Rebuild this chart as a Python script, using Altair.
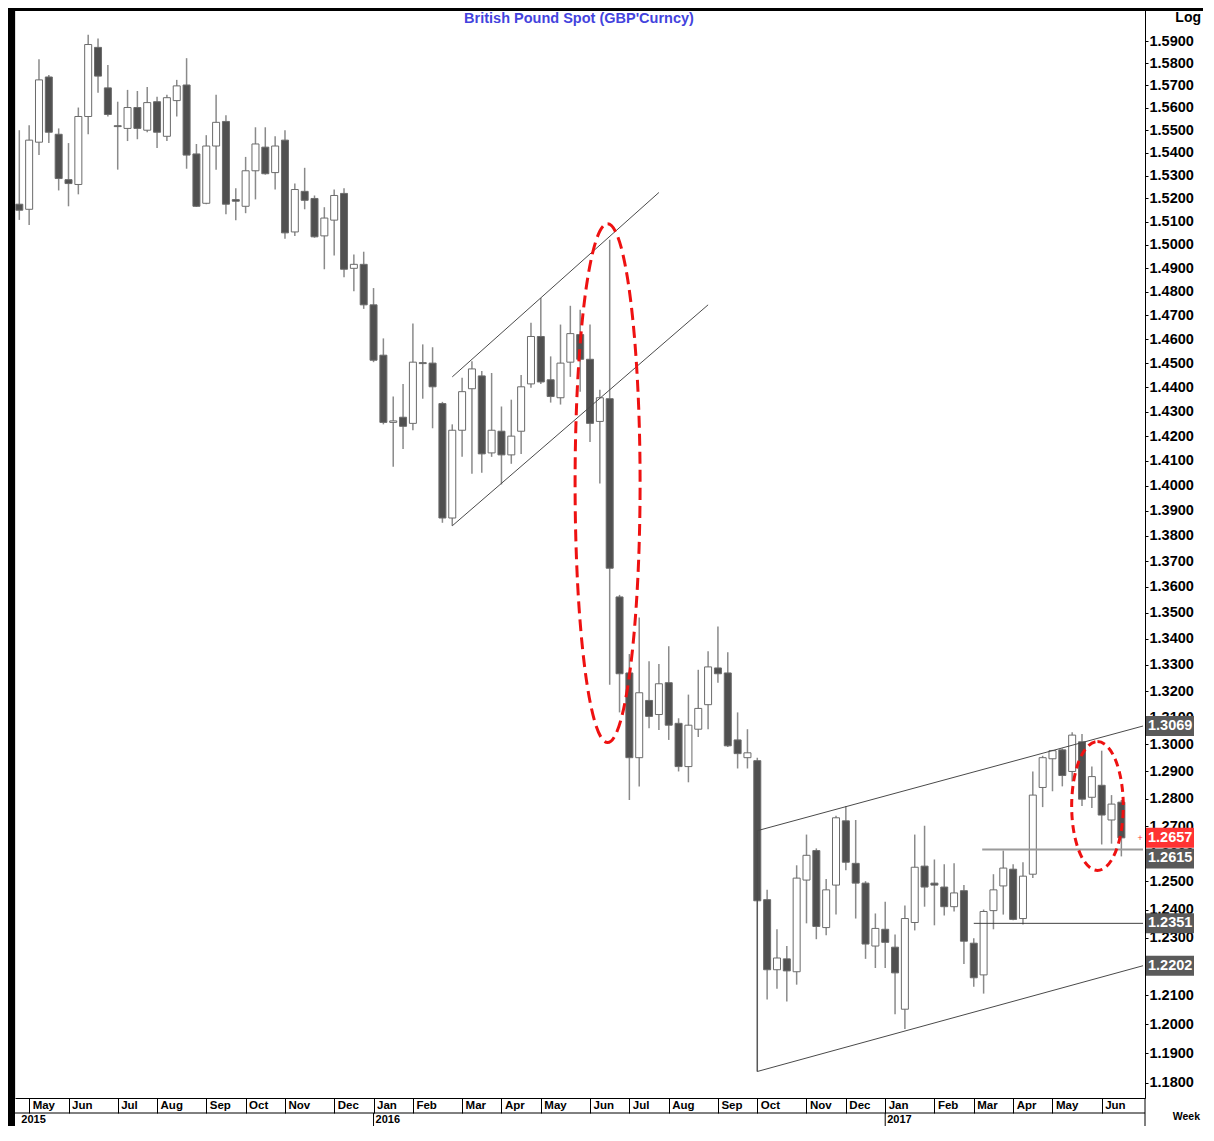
import altair as alt
import pandas as pd

# ---------------- data ----------------
WEEK_START = "2015-05-01"   # weekly bars, dated on Fridays

OPEN = [1.5175, 1.5153, 1.5447, 1.5738, 1.5482, 1.5282, 1.5261, 1.5561, 1.5872, 1.5689,
        1.5520, 1.5508, 1.5601, 1.5500, 1.5627, 1.5473, 1.5632, 1.5702, 1.5395, 1.5179,
        1.5430, 1.5539, 1.5195, 1.5166, 1.5321, 1.5425, 1.5313, 1.5456, 1.5055, 1.5231,
        1.5200, 1.5038, 1.5106, 1.5222, 1.4899, 1.4916, 1.4744, 1.4533, 1.4256, 1.4277,
        1.4252, 1.4502, 1.4500, 1.4333, 1.3871, 1.4224, 1.4394, 1.4447, 1.4132, 1.4220,
        1.4124, 1.4220, 1.4414, 1.4611, 1.4431, 1.4357, 1.4504, 1.4619, 1.4516, 1.4260,
        1.4353, 1.3561, 1.3269, 1.2951, 1.3165, 1.3112, 1.3232, 1.3079, 1.2918, 1.3057,
        1.3149, 1.3288, 1.3269, 1.3017, 1.2951, 1.2940, 1.2435, 1.2188, 1.2226, 1.2181,
        1.2505, 1.2611, 1.2336, 1.2487, 1.2719, 1.2565, 1.2494, 1.2271, 1.2330, 1.2267,
        1.2051, 1.2354, 1.2555, 1.2494, 1.2480, 1.2410, 1.2467, 1.2281, 1.2170, 1.2396,
        1.2484, 1.2544, 1.2368, 1.2526, 1.2841, 1.2947, 1.2980, 1.2900, 1.3010, 1.2805,
        1.2849, 1.2722, 1.2787]
HIGH = [1.5500, 1.5522, 1.5818, 1.5747, 1.5508, 1.5443, 1.5601, 1.5930, 1.5912, 1.5792,
        1.5627, 1.5680, 1.5675, 1.5693, 1.5649, 1.5658, 1.5725, 1.5823, 1.5439, 1.5478,
        1.5658, 1.5566, 1.5244, 1.5382, 1.5513, 1.5513, 1.5473, 1.5500, 1.5265, 1.5334,
        1.5213, 1.5162, 1.5239, 1.5244, 1.4958, 1.4970, 1.4815, 1.4603, 1.4362, 1.4414,
        1.4665, 1.4578, 1.4566, 1.4340, 1.4248, 1.4439, 1.4508, 1.4467, 1.4459, 1.4321,
        1.4349, 1.4451, 1.4669, 1.4773, 1.4528, 1.4661, 1.4740, 1.4723, 1.4661, 1.4390,
        1.5021, 1.3569, 1.3341, 1.3481, 1.3314, 1.3303, 1.3371, 1.3098, 1.3187, 1.3281,
        1.3352, 1.3447, 1.3348, 1.3120, 1.3057, 1.2951, 1.2470, 1.2330, 1.2271, 1.2558,
        1.2669, 1.2619, 1.2509, 1.2737, 1.2773, 1.2722, 1.2501, 1.2386, 1.2428, 1.2312,
        1.2414, 1.2669, 1.2701, 1.2579, 1.2562, 1.2565, 1.2487, 1.2298, 1.2400, 1.2526,
        1.2611, 1.2562, 1.2569, 1.2900, 1.2958, 1.2980, 1.2985, 1.3046, 1.3039, 1.2918,
        1.2977, 1.2813, 1.2795]
LOW = [1.5107, 1.5085, 1.5390, 1.5443, 1.5235, 1.5166, 1.5218, 1.5482, 1.5667, 1.5561,
       1.5326, 1.5452, 1.5460, 1.5491, 1.5421, 1.5452, 1.5561, 1.5330, 1.5163, 1.5175,
       1.5326, 1.5132, 1.5106, 1.5136, 1.5196, 1.5304, 1.5239, 1.5026, 1.5038, 1.5153,
       1.5030, 1.4895, 1.4954, 1.4861, 1.4802, 1.4727, 1.4504, 1.4248, 1.4076, 1.4148,
       1.4224, 1.4353, 1.4232, 1.3852, 1.3840, 1.4116, 1.4048, 1.4052, 1.4116, 1.4005,
       1.4088, 1.4128, 1.4398, 1.4414, 1.4337, 1.4329, 1.4443, 1.4382, 1.4176, 1.4009,
       1.3224, 1.3120, 1.2795, 1.2845, 1.3061, 1.3054, 1.3017, 1.2900, 1.2860, 1.3028,
       1.3057, 1.3232, 1.2991, 1.2911, 1.2911, 1.1838, 1.2085, 1.2122, 1.2078, 1.2136,
       1.2351, 1.2295, 1.2309, 1.2382, 1.2540, 1.2368, 1.2226, 1.2194, 1.2194, 1.2034,
       1.1983, 1.2326, 1.2410, 1.2344, 1.2379, 1.2393, 1.2208, 1.2129, 1.2105, 1.2330,
       1.2382, 1.2362, 1.2347, 1.2512, 1.2769, 1.2827, 1.2845, 1.2863, 1.2773, 1.2766,
       1.2633, 1.2636, 1.2590]
CLOSE = [1.5149, 1.5456, 1.5725, 1.5491, 1.5287, 1.5265, 1.5561, 1.5885, 1.5742, 1.5570,
         1.5516, 1.5601, 1.5508, 1.5623, 1.5491, 1.5645, 1.5698, 1.5390, 1.5166, 1.5430,
         1.5535, 1.5175, 1.5188, 1.5321, 1.5439, 1.5308, 1.5430, 1.5051, 1.5239, 1.5192,
         1.5034, 1.5115, 1.5213, 1.4895, 1.4916, 1.4744, 1.4512, 1.4256, 1.4262, 1.4240,
         1.4504, 1.4498, 1.4402, 1.3871, 1.4224, 1.4382, 1.4476, 1.4128, 1.4224, 1.4124,
         1.4200, 1.4402, 1.4611, 1.4422, 1.4362, 1.4500, 1.4623, 1.4516, 1.4252, 1.4357,
         1.3673, 1.3266, 1.2951, 1.3194, 1.3105, 1.3228, 1.3072, 1.2918, 1.3072, 1.3135,
         1.3292, 1.3266, 1.2995, 1.2966, 1.2969, 1.2431, 1.2188, 1.2229, 1.2184, 1.2512,
         1.2594, 1.2340, 1.2470, 1.2730, 1.2569, 1.2494, 1.2278, 1.2333, 1.2284, 1.2177,
         1.2368, 1.2551, 1.2480, 1.2487, 1.2410, 1.2459, 1.2288, 1.2160, 1.2393, 1.2470,
         1.2548, 1.2365, 1.2519, 1.2813, 1.2951, 1.2977, 1.2885, 1.3035, 1.2798, 1.2881,
         1.2740, 1.2780, 1.2657]

# month separators sit on the first weekly bar of each month
MONTH_TICKS = ["2015-05-08", "2015-06-05", "2015-07-10", "2015-08-07", "2015-09-11",
               "2015-10-09", "2015-11-06", "2015-12-11", "2016-01-08", "2016-02-05",
               "2016-03-11", "2016-04-08", "2016-05-06", "2016-06-10", "2016-07-08",
               "2016-08-05", "2016-09-09", "2016-10-07", "2016-11-11", "2016-12-09",
               "2017-01-06", "2017-02-10", "2017-03-10", "2017-04-07", "2017-05-05",
               "2017-06-09"]
YEAR_TEXT = ["2015", "2016", "2017"]
YEAR_AT = ["2015-05-01", "2016-01-08", "2017-01-06"]

PRICE_TICKS = [1.18, 1.19, 1.20, 1.21, 1.22, 1.23, 1.24, 1.25, 1.26, 1.27, 1.28, 1.29,
               1.30, 1.31, 1.32, 1.33, 1.34, 1.35, 1.36, 1.37, 1.38, 1.39, 1.40, 1.41,
               1.42, 1.43, 1.44, 1.45, 1.46, 1.47, 1.48, 1.49, 1.50, 1.51, 1.52, 1.53,
               1.54, 1.55, 1.56, 1.57, 1.58, 1.59]

# drawn trend channels (segment id, date, price)
CHANNEL_SEG = ["up16", "up16", "lo16", "lo16", "up17", "up17", "lo17", "lo17", "vert", "vert"]
CHANNEL_DATE = ["2016-03-04T00:00:00", "2016-07-29T00:00:00", "2016-03-04T00:00:00", "2016-09-02T00:00:00",
                "2016-10-07T00:00:00", "2017-07-08T10:00:00", "2016-10-07T00:00:00", "2017-07-08T10:00:00",
                "2016-10-07T00:00:00", "2016-10-07T00:00:00"]
CHANNEL_PRICE = [1.4443, 1.5226, 1.3840, 1.4744, 1.2683, 1.3069, 1.1838, 1.2202, 1.1838, 1.2683]

SUPPORT_A_DATE = ["2017-03-16T00:00:00", "2017-07-08T10:00:00"]
SUPPORT_A = 1.2615
SUPPORT_B_DATE = ["2017-03-10T00:00:00", "2017-07-08T10:00:00"]
SUPPORT_B = 1.2351

LEVELS = [1.3069, 1.2615, 1.2351, 1.2202]
LAST_PRICE = 1.2657

BIG_ELLIPSE_AT = ("2016-06-22T12:00:00", 1.4010)
SMALL_ELLIPSE_AT = ("2017-06-06T00:00:00", 1.2773)

TITLE = "British Pound Spot (GBP'Curncy)"

# ---------------- chart ----------------
W, H = 1130, 1090
FONT = "Liberation Sans, Arial, sans-serif"

candles = pd.DataFrame({
    "date": pd.date_range(WEEK_START, periods=len(OPEN), freq="7D"),
    "open": OPEN, "high": HIGH, "low": LOW, "close": CLOSE,
})

def to_dates(lst):
    return pd.to_datetime(lst, format="ISO8601")

def dt(s):
    t = pd.Timestamp(s)
    return alt.DateTime(year=t.year, month=t.month, date=t.day)

xscale = alt.Scale(domain=[alt.DateTime(year=2015, month=4, date=27, hours=22, minutes=30),
                           alt.DateTime(year=2017, month=7, date=9, hours=19, minutes=30)],
                   padding=0)
yscale = alt.Scale(type="log", domain=[1.17485, 1.6052], nice=False, zero=False, padding=0)

x_axis = alt.Axis(values=[dt(s) for s in MONTH_TICKS],
                  labelExpr="timeFormat(datum.value, '%b')",
                  title=None, orient="bottom", grid=False,
                  tickSize=15, tickColor="black", tickWidth=1,
                  domainColor="black", domainWidth=1,
                  labelAlign="left", labelBaseline="top", labelPadding=-14, labelOffset=3,
                  labelFont=FONT, labelFontSize=11.5, labelFontWeight="bold",
                  labelColor="black", labelOverlap=False, labelFlush=False)
y_axis = alt.Axis(values=PRICE_TICKS, format=".4f", orient="right", title=None, grid=False,
                  tickSize=3, tickColor="black", domainColor="black", domainWidth=1,
                  labelPadding=1, labelFont=FONT, labelFontSize=14.5, labelFontWeight="bold",
                  labelColor="black", labelOverlap=False, labelFlush=False)

def X(field):
    return alt.X(field, type="temporal", scale=xscale, axis=x_axis)

def Y(field):
    return alt.Y(field, type="quantitative", scale=yscale, axis=y_axis)

wicks = alt.Chart(candles).mark_rule(color="#8a8a8a", strokeWidth=1.5).encode(
    x=X("date"), y=Y("low"), y2="high:Q")
bodies = alt.Chart(candles).mark_bar(size=7, stroke="#6b6b6b", strokeWidth=1).encode(
    x=X("date"), y=Y("open"), y2="close:Q",
    fill=alt.when("datum.close >= datum.open").then(alt.value("white")).otherwise(alt.value("#505050")),
)

channel_df = pd.DataFrame({"seg": CHANNEL_SEG, "date": to_dates(CHANNEL_DATE), "price": CHANNEL_PRICE})
channels = alt.Chart(channel_df).mark_line(color="#4a4a4a", strokeWidth=1).encode(
    x=X("date"), y=Y("price"), detail="seg:N")

sa_df = pd.DataFrame({"date": to_dates(SUPPORT_A_DATE), "price": [SUPPORT_A] * 2})
sup_a = alt.Chart(sa_df).mark_line(color="#9a9a9a", strokeWidth=2).encode(x=X("date"), y=Y("price"))
sb_df = pd.DataFrame({"date": to_dates(SUPPORT_B_DATE), "price": [SUPPORT_B] * 2})
sup_b = alt.Chart(sb_df).mark_line(color="#404040", strokeWidth=1).encode(x=X("date"), y=Y("price"))

BIG_PATH = ("M0,-1C0.0692,-1,0.1253,-0.5523,0.1253,0C0.1253,0.5523,0.0692,1,0,1"
            "C-0.0692,1,-0.1253,0.5523,-0.1253,0C-0.1253,-0.5523,-0.0692,-1,0,-1Z")
SMALL_PATH = ("M0,-1C0.2212,-1,0.4006,-0.5523,0.4006,0C0.4006,0.5523,0.2212,1,0,1"
              "C-0.2212,1,-0.4006,0.5523,-0.4006,0C-0.4006,-0.5523,-0.2212,-1,0,-1Z")

big_df = pd.DataFrame({"date": to_dates([BIG_ELLIPSE_AT[0]]), "price": [BIG_ELLIPSE_AT[1]]})
big_ell = alt.Chart(big_df).mark_point(shape=BIG_PATH, size=269153, filled=False, opacity=1,
                                       stroke="#ee1111", strokeWidth=3, strokeDash=[12, 6]).encode(
    x=X("date"), y=Y("price"))
small_df = pd.DataFrame({"date": to_dates([SMALL_ELLIPSE_AT[0]]), "price": [SMALL_ELLIPSE_AT[1]]})
small_ell = alt.Chart(small_df).mark_point(shape=SMALL_PATH, size=16590, filled=False, opacity=1,
                                           stroke="#ee1111", strokeWidth=3, strokeDash=[8, 5]).encode(
    x=X("date"), y=Y("price"))

one = pd.DataFrame({"k": [0]})
left_border = alt.Chart(one).mark_rule(color="black", strokeWidth=7).encode(
    x=alt.value(-3.5), y=alt.value(0), y2=alt.value(H + 28))
top_border = alt.Chart(one).mark_rule(color="black", strokeWidth=3).encode(
    x=alt.value(-7), x2=alt.value(W + 58), y=alt.value(1.5))
right_ext = alt.Chart(one).mark_rule(color="black", strokeWidth=1).encode(
    x=alt.value(W), y=alt.value(H), y2=alt.value(H + 28))
month_row_line = alt.Chart(one).mark_rule(color="black", strokeWidth=1).encode(
    x=alt.value(0), x2=alt.value(W), y=alt.value(H + 15))

year_df = pd.DataFrame({"date": to_dates(YEAR_AT), "label": YEAR_TEXT})
year_sep = alt.Chart(year_df.iloc[1:]).mark_rule(color="black", strokeWidth=1).encode(
    x=X("date"), y=alt.value(H + 15), y2=alt.value(H + 28))
year_text = alt.Chart(year_df).mark_text(align="left", baseline="middle", dx=2, font=FONT,
                                         fontSize=11, fontWeight="bold", color="black").encode(
    x=X("date"), y=alt.value(H + 22), text="label:N")

# value tags on the price axis (the 1.2615 tag is pushed down so it does not hide the last price)
TAG_SHIFT = {1.3069: 0, 1.2615: 9, 1.2351: 0, 1.2202: 0}
tag_layers = []
for lv in LEVELS:
    d = pd.DataFrame({"v": [lv]})
    s = TAG_SHIFT[lv]
    tag_layers.append(alt.Chart(d).mark_rect(color="#5a5a5a", yOffset=s - 10, y2Offset=s + 10).encode(
        x=alt.value(W + 1), x2=alt.value(W + 49), y=Y("v"), y2="v:Q"))
    tag_layers.append(alt.Chart(d).mark_text(align="left", baseline="middle", font=FONT, fontSize=14.5,
                                             fontWeight="bold", color="white", dy=s).encode(
        x=alt.value(W + 3), y=Y("v"), text=alt.Text("v:Q", format=".4f")))
last_df = pd.DataFrame({"v": [LAST_PRICE]})
tag_layers.append(alt.Chart(last_df).mark_rect(color="#ff3333", yOffset=-10, y2Offset=10).encode(
    x=alt.value(W + 1), x2=alt.value(W + 49), y=Y("v"), y2="v:Q"))
tag_layers.append(alt.Chart(last_df).mark_text(align="left", baseline="middle", font=FONT, fontSize=14.5,
                                               fontWeight="bold", color="white").encode(
    x=alt.value(W + 3), y=Y("v"), text=alt.Text("v:Q", format=".4f")))
tag_layers.append(alt.Chart(last_df).mark_text(align="center", baseline="middle", font=FONT, fontSize=9,
                                               color="#ff3333", text="+").encode(
    x=alt.value(W - 5), y=Y("v")))

title_txt = alt.Chart(one).mark_text(align="center", baseline="middle", font=FONT, fontSize=14.5,
                                     fontWeight="bold", color="#4343dd", text=TITLE).encode(
    x=alt.value(564), y=alt.value(11))
log_txt = alt.Chart(one).mark_text(align="right", baseline="middle", font=FONT, fontSize=14,
                                   fontWeight="bold", color="black", text="Log").encode(
    x=alt.value(W + 56), y=alt.value(10))
week_txt = alt.Chart(one).mark_text(align="right", baseline="middle", font=FONT, fontSize=10.5,
                                    fontWeight="bold", color="black", text="Week").encode(
    x=alt.value(W + 55), y=alt.value(H + 19))

chart = alt.layer(
    wicks, bodies, channels, sup_a, sup_b, big_ell, small_ell,
    left_border, top_border, right_ext, month_row_line, year_sep, year_text,
    *tag_layers, title_txt, log_txt, week_txt,
).properties(
    width=W, height=H,
    padding={"left": 7, "top": 0, "right": 58, "bottom": 28},
    autosize=alt.AutoSizeParams(type="none"),
).configure_view(stroke=None).configure(font=FONT)

chart.save("out.html", embed_options={"renderer": "svg", "actions": False})
